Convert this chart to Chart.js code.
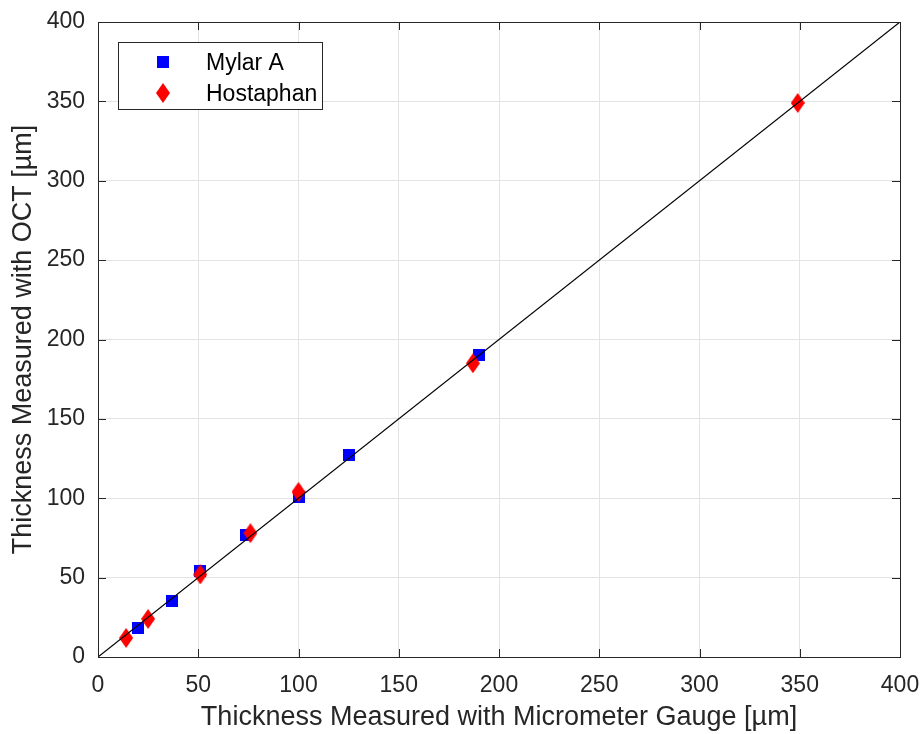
<!DOCTYPE html>
<html lang="en">
<head>
    <meta charset="UTF-8">
    <title>OCT vs Micrometer Thickness</title>
    <script src="https://cdn.jsdelivr.net/npm/chart.js@4.4.0/dist/chart.umd.min.js"></script>
    <style>
        html, body { margin: 0; padding: 0; background: #fff; }
        #wrap { width: 923px; height: 734px; }
    </style>
</head>
<body>
<div id="wrap">
    <canvas id="thicknessChart" width="923" height="734"></canvas>
</div>

<script>
    // Data (micrometer gauge vs OCT, in µm)
    const mylarX = [20, 37, 51, 74, 100, 125, 190];
    const mylarY = [18, 35, 54, 77, 101, 127, 190];
    const hostaphanX = [14, 25, 51, 76, 100, 187, 349];
    const hostaphanY = [12, 24, 52, 78, 104, 185, 349];
    const refLineX = [0, 400];
    const refLineY = [0, 400];
    const axisTicks = [0, 50, 100, 150, 200, 250, 300, 350, 400];

    const xTitle = 'Thickness Measured with Micrometer Gauge [µm]';
    const yTitle = 'Thickness Measured with OCT [µm]';
    const fontFamily = '"Liberation Sans", Arial, Helvetica, sans-serif';
    const axisColor = '#262626';

    const toPoints = (xs, ys) => xs.map((x, i) => ({ x: x, y: ys[i] }));

    // marker images (MATLAB style square and tall diamond)
    function makeSquare(size, color) {
        const c = document.createElement('canvas');
        c.width = size; c.height = size;
        const g = c.getContext('2d');
        g.fillStyle = color;
        g.fillRect(0, 0, size, size);
        return c;
    }
    function makeDiamond(w, h, color) {
        const c = document.createElement('canvas');
        c.width = w; c.height = h;
        const g = c.getContext('2d');
        g.fillStyle = color;
        g.beginPath();
        g.moveTo(w / 2, 0);
        g.lineTo(w, h / 2);
        g.lineTo(w / 2, h);
        g.lineTo(0, h / 2);
        g.closePath();
        g.fill();
        return c;
    }
    const squareMarker = makeSquare(12, '#0000ff');
    const diamondMarker = makeDiamond(14, 20, '#ff0000');

    // box around the plot, inward ticks, legend inside the axes
    const matlabAxes = {
        id: 'matlabAxes',
        afterDatasetsDraw(chart) {
            const { ctx, chartArea: a, scales } = chart;
            const tickLen = 8;
            ctx.save();
            ctx.strokeStyle = axisColor;
            ctx.lineWidth = 1;
            ctx.beginPath();
            axisTicks.forEach(v => {
                const px = Math.round(scales.x.getPixelForValue(v)) + 0.5;
                const py = Math.round(scales.y.getPixelForValue(v)) + 0.5;
                ctx.moveTo(px, a.bottom); ctx.lineTo(px, a.bottom - tickLen);
                ctx.moveTo(px, a.top); ctx.lineTo(px, a.top + tickLen);
                ctx.moveTo(a.left, py); ctx.lineTo(a.left + tickLen, py);
                ctx.moveTo(a.right, py); ctx.lineTo(a.right - tickLen, py);
            });
            ctx.stroke();
            ctx.strokeRect(Math.round(a.left) + 0.5, Math.round(a.top) + 0.5,
                Math.round(a.right - a.left), Math.round(a.bottom - a.top));

            // legend
            const lx = a.left + 20, ly = a.top + 20, lw = 204, lh = 67;
            ctx.fillStyle = '#fff';
            ctx.fillRect(lx, ly, lw, lh);
            ctx.strokeRect(Math.round(lx) + 0.5, Math.round(ly) + 0.5, lw, lh);
            ctx.drawImage(squareMarker, lx + 45 - 6, ly + 20 - 6);
            ctx.drawImage(diamondMarker, lx + 45 - 7, ly + 51 - 10);
            ctx.fillStyle = '#000';
            ctx.font = '23px ' + fontFamily;
            ctx.textBaseline = 'middle';
            ctx.textAlign = 'left';
            ctx.fillText('Mylar A', lx + 88, ly + 22);
            ctx.fillText('Hostaphan', lx + 88, ly + 53);
            ctx.restore();
        }
    };

    const tickFont = { family: fontFamily, size: 23 };
    const titleFont = { family: fontFamily, size: 27, lineHeight: 1.2 };

    new Chart(document.getElementById('thicknessChart'), {
        type: 'scatter',
        data: {
            datasets: [
                {
                    label: 'y = x',
                    data: toPoints(refLineX, refLineY),
                    showLine: true,
                    borderColor: '#000',
                    borderWidth: 1.2,
                    pointRadius: 0,
                    order: 0
                },
                {
                    label: 'Hostaphan',
                    data: toPoints(hostaphanX, hostaphanY),
                    pointStyle: diamondMarker,
                    order: 1
                },
                {
                    label: 'Mylar A',
                    data: toPoints(mylarX, mylarY),
                    pointStyle: squareMarker,
                    order: 2
                }
            ]
        },
        options: {
            responsive: false,
            animation: false,
            layout: { padding: { top: 22, right: 23, left: 0, bottom: 0 } },
            plugins: {
                legend: { display: false },
                tooltip: { enabled: false }
            },
            scales: {
                x: {
                    type: 'linear',
                    min: 0,
                    max: 400,
                    afterFit: s => {
                        s.height = 77;
                        s.paddingLeft = 0; s.paddingRight = 0;
                    },
                    afterBuildTicks: s => { s.ticks = axisTicks.map(v => ({ value: v })); },
                    grid: { color: '#e3e3e3', drawTicks: false },
                    border: { display: false },
                    ticks: { color: axisColor, font: tickFont, padding: 15, maxRotation: 0 },
                    title: {
                        display: true,
                        text: xTitle,
                        color: axisColor,
                        font: titleFont,
                        padding: { top: 0, bottom: 0 }
                    }
                },
                y: {
                    type: 'linear',
                    min: 0,
                    max: 400,
                    afterFit: s => {
                        s.width = 98;
                        s.paddingTop = 0; s.paddingBottom = 0;
                    },
                    afterBuildTicks: s => { s.ticks = axisTicks.map(v => ({ value: v })); },
                    grid: { color: '#e3e3e3', drawTicks: false },
                    border: { display: false },
                    ticks: { color: axisColor, font: tickFont, padding: 13 },
                    title: {
                        display: true,
                        text: yTitle,
                        color: axisColor,
                        font: titleFont,
                        padding: { top: 7, bottom: 0 }
                    }
                }
            }
        },
        plugins: [matlabAxes]
    });
</script>
</body>
</html>
